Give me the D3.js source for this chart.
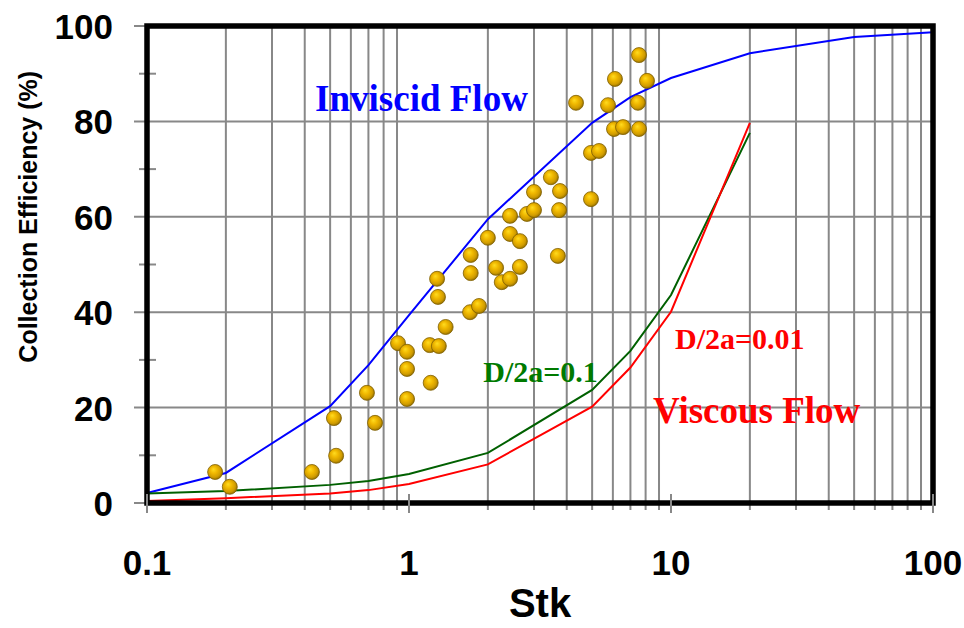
<!DOCTYPE html>
<html>
<head>
<meta charset="utf-8">
<script src="https://cdn.jsdelivr.net/npm/d3@7"></script>
<style>
  body { margin: 0; background: #fff; }
  svg { display: block; }
</style>
</head>
<body>
<div id="container"><svg></svg></div>
<script>
// model curves (Stk -> collection efficiency %)
let curveStk = [0.1, 0.2, 0.5, 0.7, 1, 2, 5, 7, 10, 20, 50, 100];
let inviscid = [2.1, 6.3, 20.3, 28.9, 39.4, 59.5, 79.7, 85.1, 89.1, 94.3, 97.7, 98.7];
let viscousStk = [0.1, 0.2, 0.5, 0.7, 1, 2, 5, 7, 10, 20];
let viscous01 = [2.0, 2.5, 3.8, 4.6, 6.1, 10.5, 23.7, 31.9, 43.6, 77.6];
let viscous001 = [0.4, 1.0, 2.0, 2.7, 4.0, 8.1, 20.2, 28.4, 40.1, 79.7];

// experimental points
let expStk = [0.182, 0.207, 0.426, 0.517, 0.527, 0.691, 0.742, 0.908, 0.983, 0.983,
              0.983, 1.20, 1.30, 1.21, 1.28, 1.29, 1.38, 1.71, 1.85, 1.72,
              1.72, 2.00, 2.15, 2.26, 2.43, 2.43, 2.65, 2.65, 2.43, 2.82,
              3.00, 3.00, 3.48, 3.77, 3.74, 3.70, 4.34, 4.95, 5.31, 4.95,
              5.75, 6.11, 6.06, 6.56, 7.55, 7.48, 7.55, 8.10];
let expEff = [6.5, 3.4, 6.5, 17.8, 9.9, 23.1, 16.8, 33.5, 31.7, 28.1,
              21.8, 33.1, 32.9, 25.2, 47.0, 43.2, 36.9, 40.0, 41.3, 52.0,
              48.2, 55.6, 49.3, 46.3, 47.0, 56.4, 54.9, 49.5, 60.2, 60.6,
              61.4, 65.2, 68.3, 65.4, 61.4, 51.8, 83.9, 73.4, 73.8, 63.7,
              83.4, 88.9, 78.4, 78.8, 93.9, 83.9, 78.4, 88.5];

let xTicks = [0.1, 1, 10, 100];
let yTicks = [0, 20, 40, 60, 80, 100];
let yMinor = [10, 30, 50, 70, 90];

// annotation texts, anchored in data coordinates
let noteText = ["Inviscid Flow", "Viscous Flow", "D/2a=0.01", "D/2a=0.1"];
let noteStk = [0.438, 8.54, 10.36, 1.92];
let noteEff = [82.2, 16.8, 32.3, 25.4];
let noteColor = ["#0000ff", "#ff0000", "#ff0000", "#007a00"];
let noteSize = [37, 37, 30, 30];

let width = 964, height = 628;
let pLeft = 147, pRight = 933, pTop = 26, pBottom = 503;

let svg = d3.select('#container').select('svg')
    .attr('width', width)
    .attr('height', height);

let x = d3.scaleLog().domain([0.1, 100]).range([pLeft, pRight]);
let y = d3.scaleLinear().domain([0, 100]).range([pBottom, pTop]);

// sphere look for the data points
let defs = svg.append("defs");
let grad = defs.append("radialGradient")
    .attr("id", "ball")
    .attr("cx", "45%").attr("cy", "45%").attr("r", "58%")
    .attr("fx", "38%").attr("fy", "32%");
grad.append("stop").attr("offset", "0%").attr("stop-color", "#ffdc20");
grad.append("stop").attr("offset", "40%").attr("stop-color", "#f0b800");
grad.append("stop").attr("offset", "75%").attr("stop-color", "#d09c00");
grad.append("stop").attr("offset", "100%").attr("stop-color", "#8c6a00");

// vertical grid (minor decades only)
let minor = x.ticks().filter(v => Math.abs(Math.log10(v) - Math.round(Math.log10(v))) > 1e-6);
svg.append("g")
    .attr("stroke", "#888")
    .attr("stroke-width", 2)
    .selectAll("line")
    .data(minor)
    .join("line")
    .attr("x1", d => x(d)).attr("x2", d => x(d))
    .attr("y1", pTop).attr("y2", pBottom + 7);

// horizontal grid + y ticks
svg.append("g")
    .attr("stroke", "#888")
    .attr("stroke-width", 2)
    .selectAll("line")
    .data(yTicks)
    .join("line")
    .attr("x1", pLeft - 13).attr("x2", pRight)
    .attr("y1", d => y(d)).attr("y2", d => y(d));

svg.append("g")
    .attr("stroke", "#888")
    .attr("stroke-width", 2)
    .selectAll("line")
    .data(yMinor)
    .join("line")
    .attr("x1", pLeft - 8).attr("x2", pLeft + 9)
    .attr("y1", d => y(d)).attr("y2", d => y(d));

// curves
let line = d3.line().x(d => x(d[0])).y(d => y(d[1]));
let curves = [
    { pts: d3.zip(curveStk, inviscid), color: "#0000ff" },
    { pts: d3.zip(viscousStk, viscous01), color: "#006000" },
    { pts: d3.zip(viscousStk, viscous001), color: "#ff0000" }
];
svg.append("g")
    .attr("fill", "none")
    .attr("stroke-width", 2)
    .selectAll("path")
    .data(curves)
    .join("path")
    .attr("stroke", d => d.color)
    .attr("d", d => line(d.pts));

// frame
svg.append("rect")
    .attr("x", pLeft).attr("y", pTop)
    .attr("width", pRight - pLeft).attr("height", pBottom - pTop)
    .attr("fill", "none")
    .attr("stroke", "#000")
    .attr("stroke-width", 5.5);

// major x ticks
svg.append("g")
    .attr("stroke", "#888")
    .attr("stroke-width", 2)
    .selectAll("line")
    .data(xTicks)
    .join("line")
    .attr("x1", d => x(d)).attr("x2", d => x(d))
    .attr("y1", pBottom - 9).attr("y2", pBottom + 10);

// data points
svg.append("g")
    .selectAll("circle")
    .data(d3.zip(expStk, expEff))
    .join("circle")
    .attr("cx", d => x(d[0]))
    .attr("cy", d => y(d[1]))
    .attr("r", 7.5)
    .attr("fill", "url(#ball)")
    .attr("stroke", "#806000")
    .attr("stroke-width", 0.8);

// tick labels
svg.append("g")
    .selectAll("text")
    .data(yTicks)
    .join("text")
    .attr("x", 113)
    .attr("y", d => y(d) + 13)
    .attr("text-anchor", "end")
    .style("font", "bold 35px 'Liberation Sans', Arial, sans-serif")
    .text(d => d);

svg.append("g")
    .selectAll("text")
    .data(xTicks)
    .join("text")
    .attr("x", d => x(d))
    .attr("y", 575)
    .attr("text-anchor", "middle")
    .style("font", "bold 35px 'Liberation Sans', Arial, sans-serif")
    .text(d => d);

// axis titles
svg.append("text")
    .attr("x", x(Math.sqrt(10)))
    .attr("y", 617)
    .attr("text-anchor", "middle")
    .style("font", "bold 40px 'Liberation Sans', Arial, sans-serif")
    .text("Stk");

svg.append("text")
    .attr("transform", "translate(37," + y(60) + ") rotate(-90)")
    .attr("text-anchor", "middle")
    .style("font", "bold 25px 'Liberation Sans', Arial, sans-serif")
    .text("Collection Efficiency (%)");

// annotations
svg.append("g")
    .selectAll("text")
    .data(d3.range(noteText.length))
    .join("text")
    .attr("x", i => x(noteStk[i]))
    .attr("y", i => y(noteEff[i]))
    .attr("fill", i => noteColor[i])
    .style("font-family", "'Liberation Serif', 'Times New Roman', serif")
    .style("font-weight", "bold")
    .style("font-size", i => noteSize[i] + "px")
    .text(i => noteText[i]);
</script>
</body>
</html>
